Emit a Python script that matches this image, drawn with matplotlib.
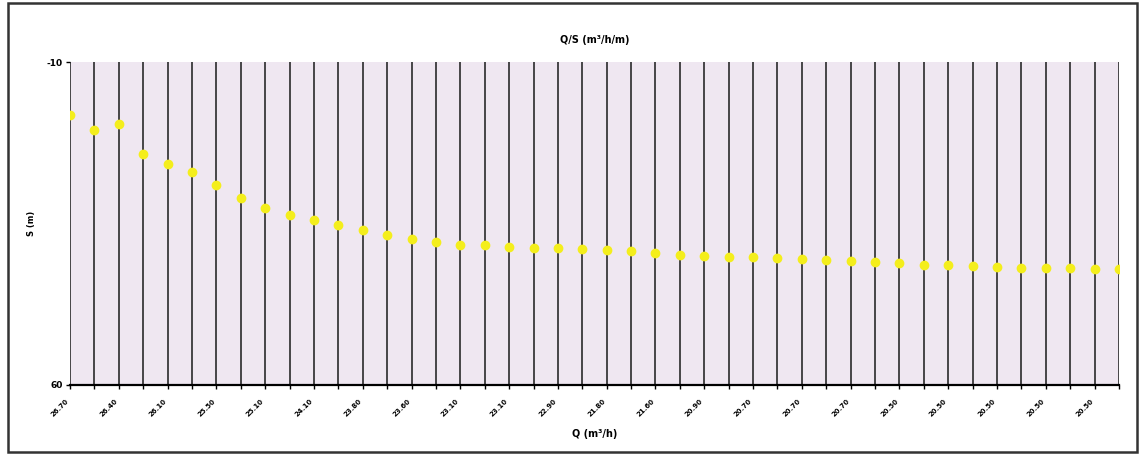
import matplotlib.pyplot as plt
from matplotlib.patches import Rectangle

# drawdown S (m) per step
s_values = [1.5, 4.7, 3.4, 9.9, 12.1, 13.8, 16.7, 19.5, 21.7, 23.2, 24.2,
            25.3, 26.4, 27.5, 28.4, 29.0, 29.7, 29.7, 30.1, 30.3, 30.3, 30.5,
            30.7, 31.0, 31.4, 31.8, 32.0, 32.3, 32.3, 32.5, 32.7, 32.9, 33.1,
            33.3, 33.6, 34.0, 34.0, 34.2, 34.4, 34.6, 34.6, 34.6, 34.9, 34.9]

# Q labels shown on every second category
q_labels = ["26.70", "26.40", "26.10", "25.50", "25.10", "24.10", "23.80",
            "23.60", "23.10", "23.10", "22.90", "21.80", "21.60", "20.90",
            "20.70", "20.70", "20.70", "20.50", "20.50", "20.50", "20.50",
            "20.50"]

y_ticks = [-10, 60]

n = len(s_values)
cats = list(range(n))

fig = plt.figure(figsize=(11.41, 4.55), dpi=100)
ax = fig.add_axes([70 / 1141, 70 / 455, (1119 - 70) / 1141, (385 - 62) / 455])

# outer chart frame
fig.patches.append(Rectangle((8 / 1141, 3 / 455), 1129 / 1141, 449 / 455,
                             transform=fig.transFigure, fill=False,
                             edgecolor="#333333", lw=1.8))

ax.set_facecolor("#efe7f1")
for c in cats:
    ax.axvline(c, color="#2a2a2a", lw=1.2, zorder=1)

ax.plot(cats, s_values, "o", color="#f4ee1c", ms=6, zorder=3)

ax.set_xlim(0, n - 1)
ax.set_ylim(60, -10)
ax.set_yticks(y_ticks)
ax.set_yticklabels([str(t) for t in y_ticks], fontsize=6.5, fontweight="bold")

ax.set_xticks(cats)
ax.set_xticklabels([q_labels[i // 2] if i % 2 == 0 else "" for i in cats],
                   rotation=45, ha="right", fontsize=5, fontweight="bold")
ax.tick_params(axis="x", length=3, width=1, pad=6)
ax.tick_params(axis="y", length=3, width=1, pad=2)

for side in ["top", "right", "left"]:
    ax.spines[side].set_visible(False)
ax.spines["bottom"].set_linewidth(1.6)

ax.set_title("Q/S (m³/h/m)", fontsize=7, fontweight="bold", pad=14)
ax.set_xlabel("Q (m³/h)", fontsize=7, fontweight="bold", labelpad=8)
ax.set_ylabel("S (m)", fontsize=6, fontweight="bold", labelpad=8)

fig.savefig("out.png", dpi=100)
